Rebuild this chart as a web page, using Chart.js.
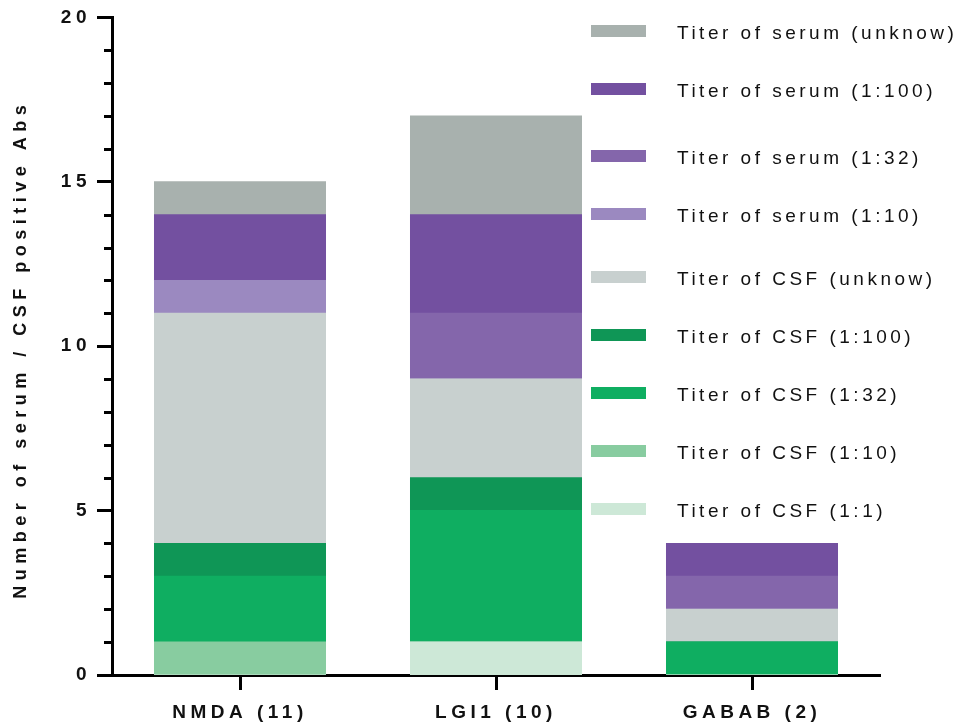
<!DOCTYPE html>
<html>
<head>
<meta charset="utf-8">
<script src="https://cdn.jsdelivr.net/npm/chart.js@4/dist/chart.umd.min.js"></script>
<style>
  html, body { margin: 0; padding: 0; background: #ffffff; }
  #wrap { width: 974px; height: 727px; }
</style>
</head>
<body>
<div id="wrap"><canvas id="c" width="974" height="727"></canvas></div>
<script>
// ---- data ----
const categories = ['NMDA (11)', 'LGI1 (10)', 'GABAB (2)'];
const csfTiter1_1 = [0, 1, 0];
const csfTiter1_10 = [1, 0, 0];
const csfTiter1_32 = [2, 4, 1];
const csfTiter1_100 = [1, 1, 0];
const csfTiterUnknow = [7, 3, 1];
const serumTiter1_10 = [1, 0, 0];
const serumTiter1_32 = [0, 2, 1];
const serumTiter1_100 = [2, 3, 1];
const serumTiterUnknow = [1, 3, 0];
const yTicks = [0, 5, 10, 15, 20];
const yAxisTitle = 'Number of serum / CSF positive Abs';

const FONT = '"Liberation Sans", Arial, Helvetica, sans-serif';

const datasets = [
  { label: 'Titer of CSF (1:1)', data: csfTiter1_1, backgroundColor: '#cde8d7' },
  { label: 'Titer of CSF (1:10)', data: csfTiter1_10, backgroundColor: '#88cca0' },
  { label: 'Titer of CSF (1:32)', data: csfTiter1_32, backgroundColor: '#0fae61' },
  { label: 'Titer of CSF (1:100)', data: csfTiter1_100, backgroundColor: '#0f9656' },
  { label: 'Titer of CSF (unknow)', data: csfTiterUnknow, backgroundColor: '#c8d0cf' },
  { label: 'Titer of serum (1:10)', data: serumTiter1_10, backgroundColor: '#9b89c0' },
  { label: 'Titer of serum (1:32)', data: serumTiter1_32, backgroundColor: '#8466ab' },
  { label: 'Titer of serum (1:100)', data: serumTiter1_100, backgroundColor: '#7350a0' },
  { label: 'Titer of serum (unknow)', data: serumTiterUnknow, backgroundColor: '#a8b1ae' }
].map(d => Object.assign(d, { borderWidth: 0, borderSkipped: false, inflateAmount: 0.5, barPercentage: 0.668, categoryPercentage: 1.0 }));

// layout of the legend rows (top to bottom), not data
const legendLayout = { boxX: 591, boxW: 55, boxH: 12, textX: 677, rowY: [31, 89, 156, 214, 277, 335, 393, 451, 509] };

const extrasPlugin = {
  id: 'extras',
  beforeDraw(chart) {
    chart.ctx.letterSpacing = '4.5px';
  },
  afterDraw(chart) {
    const ctx = chart.ctx;
    const y = chart.scales.y;
    const area = chart.chartArea;
    // minor ticks
    ctx.save();
    ctx.strokeStyle = '#000';
    ctx.lineWidth = 3;
    for (let v = y.min; v <= y.max; v += 1) {
      if (v % 5 === 0) continue;
      const py = Math.round(y.getPixelForValue(v)) + 0.5;
      ctx.beginPath();
      ctx.moveTo(area.left - 8, py);
      ctx.lineTo(area.left, py);
      ctx.stroke();
    }
    ctx.restore();

    // y axis title
    ctx.save();
    ctx.letterSpacing = '5.5px';
    ctx.fillStyle = '#111';
    ctx.font = 'bold 18px ' + FONT;
    ctx.textAlign = 'center';
    ctx.textBaseline = 'middle';
    ctx.translate(21, (area.top + area.bottom) / 2 + 3);
    ctx.rotate(-Math.PI / 2);
    ctx.fillText(yAxisTitle, 0, 0);
    ctx.restore();

    // legend (reverse dataset order)
    ctx.save();
    ctx.letterSpacing = '3.5px';
    ctx.font = '19px ' + FONT;
    ctx.textAlign = 'left';
    ctx.textBaseline = 'middle';
    const ds = chart.data.datasets.slice().reverse();
    ds.forEach((d, i) => {
      const ry = legendLayout.rowY[i];
      ctx.fillStyle = d.backgroundColor;
      ctx.fillRect(legendLayout.boxX, ry - legendLayout.boxH / 2, legendLayout.boxW, legendLayout.boxH);
      ctx.fillStyle = '#111';
      ctx.fillText(d.label, legendLayout.textX, ry + 3);
    });
    ctx.restore();
  }
};

new Chart(document.getElementById('c'), {
  type: 'bar',
  data: { labels: categories, datasets: datasets },
  options: {
    responsive: false,
    animation: false,
    devicePixelRatio: 1,
    layout: { padding: { left: 0, right: 94, top: 17, bottom: 0 } },
    plugins: { legend: { display: false }, tooltip: { enabled: false } },
    scales: {
      x: {
        stacked: true,
        grid: { display: true, drawOnChartArea: false, offset: false, tickLength: 15, tickWidth: 3, tickColor: '#000' },
        border: { display: true, color: '#000', width: 3 },
        ticks: { color: '#111', font: { family: FONT, size: 19, weight: 'bold' }, padding: 11, maxRotation: 0, autoSkip: false },
        afterFit(scale) { scale.height = 52; }
      },
      y: {
        stacked: true,
        min: 0,
        max: 20,
        afterBuildTicks(scale) { scale.ticks = yTicks.map(v => ({ value: v })); },
        grid: { display: true, drawOnChartArea: false, tickLength: 15, tickWidth: 3, tickColor: '#000' },
        border: { display: true, color: '#000', width: 3 },
        ticks: { color: '#111', font: { family: FONT, size: 19, weight: 'bold' }, padding: 6 },
        afterFit(scale) { scale.width = 112; }
      }
    }
  },
  plugins: [extrasPlugin]
});
</script>
</body>
</html>
